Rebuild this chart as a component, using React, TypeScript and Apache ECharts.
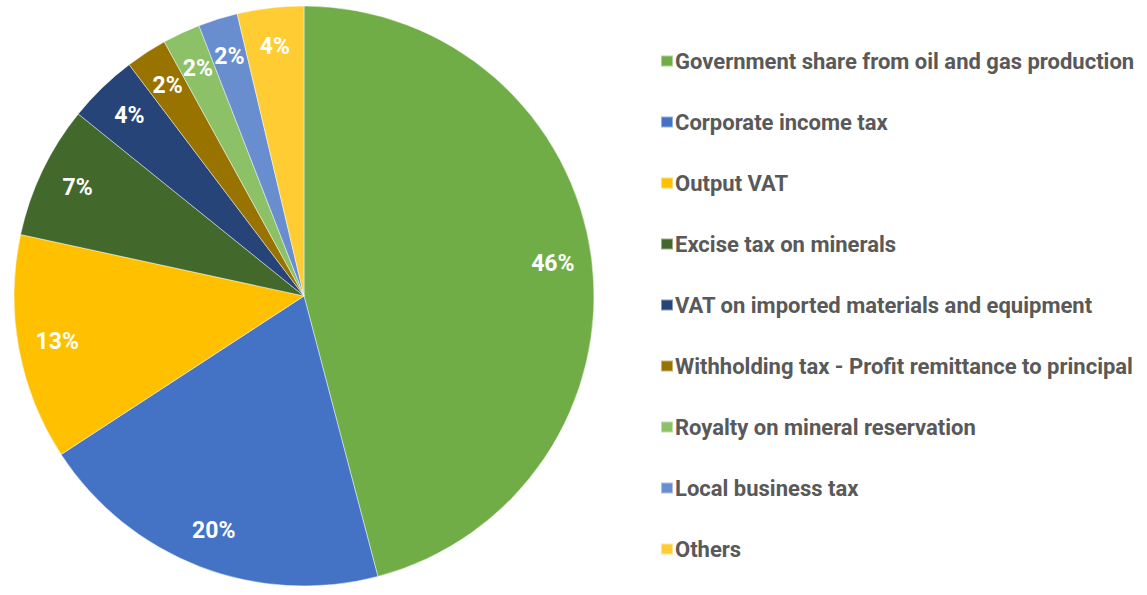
import React, { useEffect, useRef } from "react";
import * as echarts from "echarts";

const categories = [
  "Government share from oil and gas production",
  "Corporate income tax",
  "Output VAT",
  "Excise tax on minerals",
  "VAT on imported materials and equipment",
  "Withholding tax - Profit remittance to principal",
  "Royalty on mineral reservation",
  "Local business tax",
  "Others",
];
const shares = [45.9, 19.9, 12.6, 7.4, 3.9, 2.3, 2.1, 2.2, 3.7];
const colors = [
  "#70AD47",
  "#4472C4",
  "#FFC000",
  "#43682B",
  "#264478",
  "#997300",
  "#8CC168",
  "#698ED0",
  "#FFCD33",
];

export default function App() {
  const ref = useRef<HTMLDivElement>(null);
  useEffect(() => {
    document.body.style.margin = "0";
    const chart = echarts.init(ref.current!, null, { renderer: "svg" });
    const data = categories.map((name, i) => ({
      name,
      value: shares[i],
      itemStyle: { color: colors[i] },
    }));
    const R = 290;
    chart.setOption({
      animation: false,
      legend: {
        orient: "vertical",
        left: 655,
        top: 45,
        itemWidth: 12,
        itemHeight: 11,
        itemGap: 39,
        icon: "rect",
        data: categories,
        selectedMode: false,
        textStyle: {
          fontFamily: "Roboto",
          fontWeight: "bold",
          fontSize: 22,
          color: "#595959",
          padding: [0, 0, 0, -3],
        },
      },
      series: [
        {
          type: "pie",
          center: [304, 296],
          radius: R,
          startAngle: 90,
          clockwise: true,
          data,
          label: { show: false },
          labelLine: { show: false },
          itemStyle: { borderColor: "rgba(255,255,255,0.45)", borderWidth: 1 },
          emphasis: { disabled: true },
        },
        {
          type: "pie",
          center: [304, 296],
          radius: [R * 0.73, R * 0.98],
          startAngle: 90,
          clockwise: true,
          silent: true,
          legendHoverLink: false,
          data: categories.map((name, i) => ({ name, value: shares[i] })),
          itemStyle: { color: "rgba(0,0,0,0)", borderWidth: 0 },
          label: {
            show: true,
            position: "inside",
            color: "#ffffff",
            fontFamily: "Roboto",
            fontWeight: "bold",
            fontSize: 23,
            formatter: (p: any) => `${Math.round(p.percent)}%`,
          },
          labelLine: { show: false },
          emphasis: { disabled: true },
        },
      ],
    });
    return () => chart.dispose();
  }, []);
  return <div ref={ref} style={{ width: 1147, height: 595 }} />;
}
